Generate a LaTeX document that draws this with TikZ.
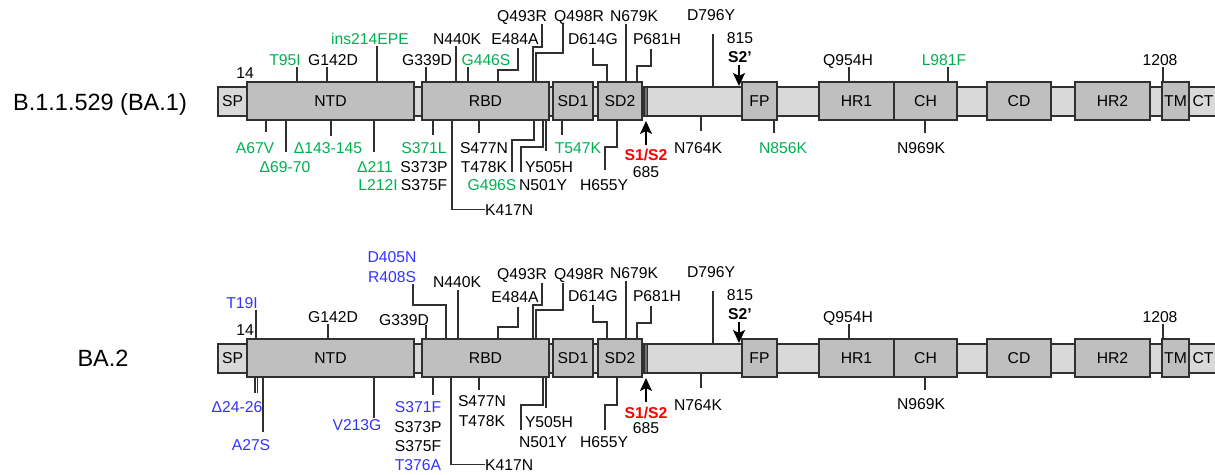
\documentclass[tikz,border=0pt]{standalone}
\usepackage{fontspec}
\setmainfont{Liberation Sans}
\usetikzlibrary{arrows.meta}

\definecolor{ogreen}{HTML}{00B050}
\definecolor{oblue}{HTML}{3333FF}
\definecolor{ored}{HTML}{FF0000}
\definecolor{domgray}{HTML}{BFBFBF}
\definecolor{bargray}{HTML}{D9D9D9}
\definecolor{linegray}{HTML}{303030}

\tikzset{
  dombox/.style={rectangle, draw=linegray, fill=domgray, line width=1.1pt,
    minimum height=38pt, inner sep=0pt},
  backbone/.style={draw=linegray, fill=bargray, line width=1.1pt},
  tick/.style={draw=linegray, line width=1.1pt},
  mut/.style={anchor=base, inner sep=0pt},
  cleave/.style={-{Stealth[length=13pt,width=12pt,inset=3pt]}, line width=2.2pt},
}

\begin{document}
\begin{tikzpicture}[x=1pt, y=-1pt, font=\fontsize{15.7}{18}\selectfont]
\useasboundingbox (0,0) rectangle (1215,474);

\foreach \yo/\p in {0/a, 257/b}{
  \begin{scope}[yshift=-\yo pt]
    \draw[backbone] (218,87) rectangle (1230,116);
    \foreach \nm/\xa/\xb in {NTD/247/414, RBD/422/549, SD1/553/593, SD2/598/642,
        FP/742/777, HR1/819/894, CH/894/957, CD/987/1051, HR2/1075/1150, TM/1162/1189}{
      \node[dombox, minimum width={(\xb-\xa)*1pt}] (\p-\nm) at ({(\xa+\xb)/2},101) {\nm};
    }
    \draw[backbone, fill=black!55] (644,87) rectangle (647.5,116);
    \node (\p-SP) at (232.5,101.5) {SP};
    \node (\p-CT) at (1203,101.5) {CT};
  \end{scope}
}

\node[mut, font=\fontsize{23.5}{27}\selectfont] (a-name) at (100,110) {B.1.1.529 (BA.1)};
\node[mut, font=\fontsize{23.5}{27}\selectfont] (b-name) at (103,366) {BA.2};

% B.1.1.529 (BA.1)
\foreach \s/\t/\e/\lx/\ly/\c/\txt [count=\i] in {
  82/297/67/285/65/ogreen/T95I,
  82/327/67/333/65/black/G142D,
  82/377/46/370/44/ogreen/ins214EPE,
  82/426/67/427/65/black/G339D,
  82/456/46/457/44/black/N440K,
  82/468/67/486/65/ogreen/G446S,
  82/626/24/634/21/black/N679K,
  87/713/34/711/20/black/D796Y,
  82/849/67/848/65/black/Q954H,
  82/948/67/944/65/ogreen/L981F,
  82/1163/67/1160/65/black/1208,
  120/266/132/255/153/ogreen/A67V,
  120/286/152/285/172/ogreen/Δ69-70,
  120/331/136/328/153/ogreen/Δ143-145,
  120/374/152/375/172/ogreen/Δ211,
  120/433/135/424/153/ogreen/S371L,
  120/479/133/484/153/black/S477N,
  120/546/151/549/172/black/Y505H,
  120/562/135/578/153/ogreen/T547K,
  116/701/131/698/153/black/N764K,
  120/774/133/783/153/ogreen/N856K,
  120/925/133/921/153/black/N969K}{
  \draw[tick] (\t,\s) -- (\t,\e);
  \node[mut, text=\c] (a-m\i) at (\lx,\ly) {\txt};
}
\foreach \s/\a/\m/\b/\e/\lx/\ly/\c/\txt [count=\i] in {
  82/498/70/518/48/515/44/black/E484A,
  82/533/47/542/24/522/21/black/Q493R,
  82/536/53/563/24/579/21/black/Q498R,
  82/607/65/593/48/593/44/black/D614G,
  82/637/66/651/49/657/44/black/P681H,
  120/534/140/512/172/492/190/ogreen/G496S,
  120/543/147/521/172/543/190/black/N501Y,
  120/617/147/605/170/604/190/black/H655Y}{
  \draw[tick] (\a,\s) |- (\b,\m) -- (\b,\e);
  \node[mut, text=\c] (a-k\i) at (\lx,\ly) {\txt};
}
\foreach \lx/\ly/\c/\txt [count=\i] in {
  245/78/black/14, 378/190/ogreen/L212I, 424/172/black/S373P,
  424/190/black/S375F, 484/172/black/T478K, 740/43/black/815, 646/177/black/685}{
  \node[mut, text=\c] (a-l\i) at (\lx,\ly) {\txt};
}
\node[mut, anchor=base west] (a-K417N) at (485,215) {K417N};
\draw[tick] (452,120) |- (a-K417N.west);
\node[mut, text=ored, font=\fontsize{15.7}{18}\selectfont\bfseries] (a-S1S2) at (646,160) {S1/S2};
\node[mut, font=\fontsize{15.7}{18}\selectfont\bfseries] (a-S2) at (740,62) {S2’};
\draw[cleave] (646,145) -- (646,121);
\draw[cleave] (739,65) -- (739,86);

% BA.2
\foreach \s/\t/\e/\lx/\ly/\c/\txt [count=\i] in {
  339/256/310/242/308/oblue/T19I,
  339/328/324/333/322/black/G142D,
  339/426/325/404/325/black/G339D,
  339/458/290/457/287/black/N440K,
  339/626/281/634/278/black/N679K,
  344/713/291/711/277/black/D796Y,
  339/849/324/848/322/black/Q954H,
  339/1163/324/1160/322/black/1208,
  377/255/393/237/412/oblue/Δ24-26,
  377/263/432/251/450/oblue/A27S,
  377/374/418/357/430/oblue/V213G,
  377/433/395/418/412/oblue/S371F,
  377/479/390/482/406/black/S477N,
  377/546/408/549/427/black/Y505H,
  373/701/388/698/410/black/N764K,
  377/925/390/921/409/black/N969K}{
  \draw[tick] (\t,\s) -- (\t,\e);
  \node[mut, text=\c] (b-m\i) at (\lx,\ly) {\txt};
}
\draw[tick] (257.5,377) -- (257.5,393);
\foreach \s/\a/\m/\b/\e/\lx/\ly/\c/\txt [count=\i] in {
  339/446/305/413/284/392/282/oblue/R408S,
  339/498/327/518/307/515/302/black/E484A,
  339/533/305/542/283/522/279/black/Q493R,
  339/536/310/563/283/579/279/black/Q498R,
  339/607/322/593/305/593/301/black/D614G,
  339/637/323/651/306/657/301/black/P681H,
  377/543/405/521/430/543/447/black/N501Y,
  377/617/405/605/430/604/447/black/H655Y}{
  \draw[tick] (\a,\s) |- (\b,\m) -- (\b,\e);
  \node[mut, text=\c] (b-k\i) at (\lx,\ly) {\txt};
}
\foreach \lx/\ly/\c/\txt [count=\i] in {
  245/335/black/14, 392/262/oblue/D405N, 418/432/black/S373P,
  418/451/black/S375F, 418/470/oblue/T376A, 482/426/black/T478K,
  740/300/black/815, 646/433/black/685}{
  \node[mut, text=\c] (b-l\i) at (\lx,\ly) {\txt};
}
\node[mut, anchor=base west] (b-K417N) at (485,470) {K417N};
\draw[tick] (451,377) |- (b-K417N.west);
\node[mut, text=ored, font=\fontsize{15.7}{18}\selectfont\bfseries] (b-S1S2) at (646,418) {S1/S2};
\node[mut, font=\fontsize{15.7}{18}\selectfont\bfseries] (b-S2) at (740,319) {S2’};
\draw[cleave] (646,402) -- (646,378);
\draw[cleave] (739,322) -- (739,343);
\end{tikzpicture}
\end{document}
